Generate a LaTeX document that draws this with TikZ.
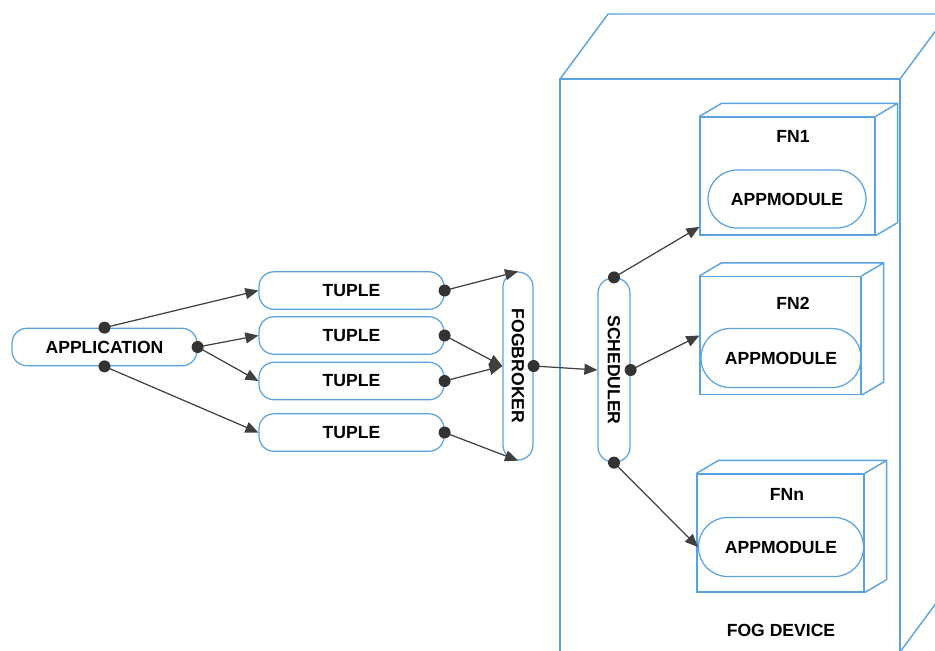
\documentclass[tikz,border=0pt]{standalone}
\usepackage{fontspec}
\usepackage{graphicx}
\setmainfont{Liberation Sans}
\usetikzlibrary{arrows.meta,calc}
\definecolor{fogblue}{RGB}{90,162,222}
\definecolor{linkgray}{RGB}{64,64,64}
\definecolor{dotgray}{RGB}{51,51,51}

\begin{document}
\begin{tikzpicture}[x=0.02cm,y=-0.02cm,
		font=\fontsize{10}{12}\selectfont\bfseries,
		pill/.style={draw=fogblue,line width=0.7pt,rounded corners=0.3cm,minimum width=3.7cm,minimum height=0.75cm,inner sep=0pt},
		stand/.style={draw=fogblue,line width=0.7pt,rounded corners=0.3cm,inner sep=0pt},
		fnface/.style={draw=fogblue,line width=0.7pt,minimum height=2.36cm,inner sep=0pt},
		module/.style={draw=fogblue,line width=0.7pt,rounded corners=0.58cm,minimum height=1.18cm,inner sep=0pt},
		wall/.style={draw=fogblue,line width=0.8pt},
		link/.style={draw=linkgray,line width=0.7pt,-{Triangle[length=0.26cm,width=0.22cm]}},
		dot/.style={fill=dotgray}]
		%\draw [help lines] (0,0) grid (935,650);
		\useasboundingbox (0,0) rectangle (935,650);
		\clip (0,0) rectangle (935,650);
		\def\dotr{6}
	% fog device
		\draw [wall] (560,652) -- (560,79) -- (900,79) -- (900,652);
		\draw [wall] (560,79) -- (608,14) -- (948,14) -- (900,79);
		\draw [wall] (948,14) -- (948,587) -- (900,652);
		\node (devlabel) at (781,630) {FOG DEVICE};
	% application and tuples
		\node [pill] (app) at (104.5,347) {APPLICATION};
		\node [pill] (t1) at (351.5,290.5) {TUPLE};
		\node [pill] (t2) at (351.5,335.5) {TUPLE};
		\node [pill] (t3) at (351.5,381) {TUPLE};
		\node [pill] (t4) at (351.5,432.5) {TUPLE};
	% broker and scheduler
		\node [stand,minimum width=0.6cm,minimum height=3.76cm] (fb) at (518,366) {\rotatebox{-90}{FOGBROKER}};
		\node [stand,minimum width=0.64cm,minimum height=3.68cm] (sch) at (614,370) {\rotatebox{-90}{SCHEDULER}};
	% fog nodes
		\node [fnface,minimum width=3.5cm] (fn1) at (787.5,176) {};
		\node [fnface,minimum width=3.22cm] (fn2) at (780.5,335.5) {};
		\node [fnface,minimum width=3.34cm] (fnn) at (780.5,533) {};
		\foreach \fn in {fn1,fn2,fnn}
			\draw [wall] (\fn.north west) -- ++(22,-13) -| ($(\fn.south east)+(22,-13)$) -- (\fn.south east) (\fn.north east) -- ++(22,-13);
		\node (fn1label) at (793,136) {FN1};
		\node (fn2label) at (793,303) {FN2};
		\node (fnnlabel) at (787,494) {FNn};
		\node [module,minimum width=3.16cm,minimum height=1.16cm] (m1) at (787,199) {APPMODULE};
		\node [module,minimum width=3.2cm] (m2) at (781,358) {APPMODULE};
		\node [module,minimum width=3.3cm] (m3) at (781,547) {APPMODULE};
	% links
		\draw [link] (app.north) -- (t1.west);
		\draw [link] (app.east) -- (t2.west);
		\draw [link] (app.east) -- (t3.west);
		\draw [link] (app.south) -- (t4.west);
		\draw [link] (t1.east) -- (fb.north);
		\draw [link] (t2.east) -- (fb.west);
		\draw [link] (t3.east) -- (fb.west);
		\draw [link] (t4.east) -- (fb.south);
		\draw [link] (fb.east) -- (sch.west);
		\draw [link] (sch.north) -- (fn1.-150);
		\draw [link] (sch.east) -- (fn2.west);
		\draw [link] (sch.south) -- (m3.west);
	% dots
		\foreach \p in {app.north,app.east,app.south,t1.east,t2.east,t3.east,t4.east,fb.east,sch.north,sch.east,sch.south}
			\fill [dot] (\p) circle (\dotr);
\end{tikzpicture}
\end{document}
